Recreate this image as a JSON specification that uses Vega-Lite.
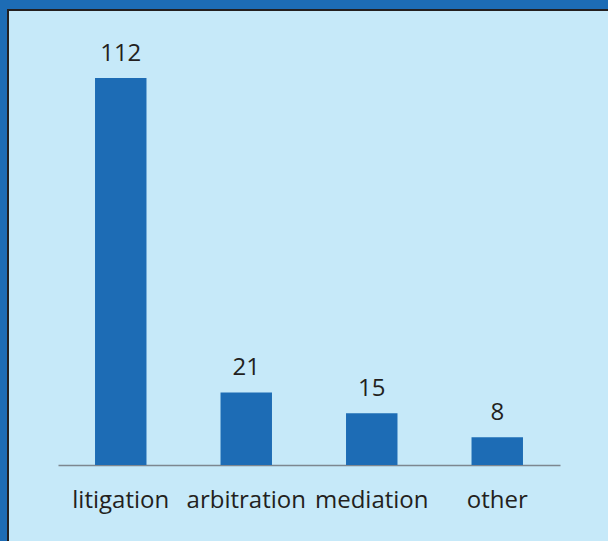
{
  "$schema": "https://vega.github.io/schema/vega-lite/v6.json",
  "autosize": {"type": "none"},
  "width": 602,
  "height": 533,
  "padding": {"left": 8, "top": 10, "right": -2, "bottom": -2},
  "background": "#1d6cb5",
  "config": {
    "view": {"fill": "#c6e9f9", "stroke": "#231f20", "strokeWidth": 2},
    "font": "Open Sans"
  },
  "data": {
    "values": [
      {"method": "litigation", "count": 112},
      {"method": "arbitration", "count": 21},
      {"method": "mediation", "count": 15},
      {"method": "other", "count": 8}
    ]
  },
  "encoding": {
    "x": {
      "field": "method",
      "type": "nominal",
      "sort": null,
      "scale": {"range": [50, 552], "paddingInner": 0.59, "paddingOuter": 0.295},
      "axis": {
        "title": null,
        "orient": "bottom",
        "offset": -78,
        "domainColor": "#7d8790",
        "domainWidth": 1.5,
        "ticks": false,
        "labelAngle": 0,
        "labelFontSize": 24,
        "labelColor": "#231f20",
        "labelPadding": 23,
        "labelFont": "Open Sans"
      }
    },
    "y": {
      "field": "count",
      "type": "quantitative",
      "scale": {"domain": [0, 112], "range": [455, 68], "nice": false},
      "axis": null
    }
  },
  "layer": [
    {"mark": {"type": "bar", "color": "#1d6cb5"}},
    {
      "mark": {"type": "text", "baseline": "alphabetic", "dy": -17, "fontSize": 24, "color": "#231f20", "font": "Open Sans"},
      "encoding": {"text": {"field": "count", "type": "quantitative"}}
    }
  ]
}
